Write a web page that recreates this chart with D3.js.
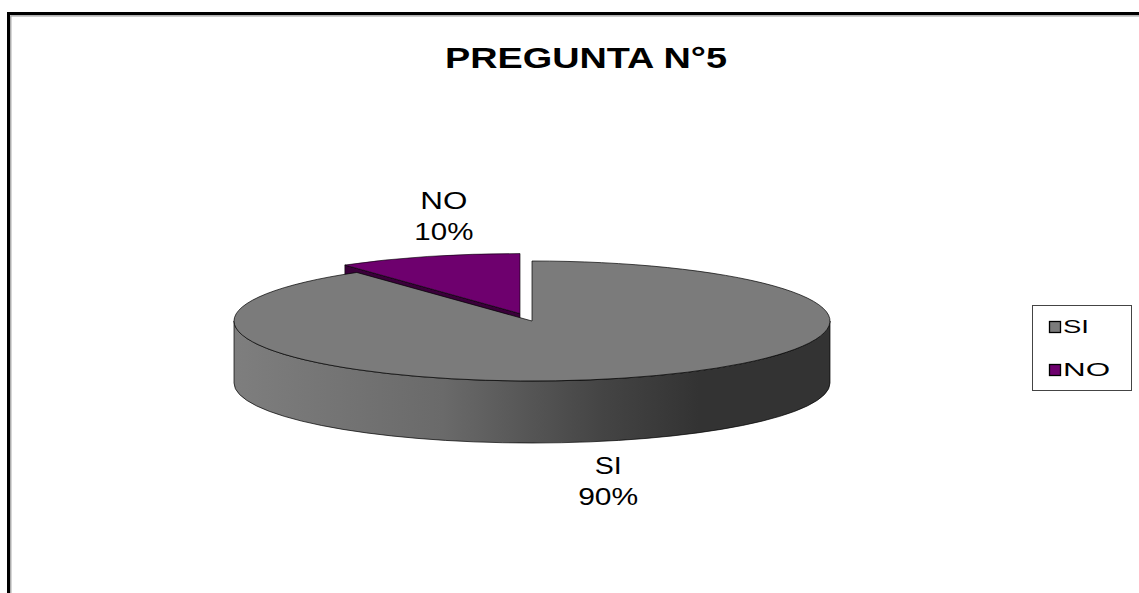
<!DOCTYPE html>
<html>
<head>
<meta charset="utf-8">
<script src="https://cdn.jsdelivr.net/npm/d3@7"></script>
<style>
  html, body { margin: 0; padding: 0; background: #fff; }
  svg { display: block; }
  text { font-family: "Liberation Sans", Arial, sans-serif; fill: #000; }
</style>
</head>
<body>
<svg id="chart" width="1139" height="593"></svg>
<script>
// Survey answers for question 5
const categories = ["SI", "NO"];
const values = [90, 10];
const percentLabels = ["90%", "10%"];
const chartTitle = "PREGUNTA N°5";

const topColors = ["#7b7b7b", "#6e006e"];
const wallColors = ["#555555", "#3a003a"];

const svg = d3.select("#chart");
const W = 1139, H = 593;

// Outer frame: heavy black rule with a thin grey inner line
svg.append("path")
  .attr("d", `M8.5,${H} V13.5 H${W}`)
  .attr("fill", "none").attr("stroke", "#000").attr("stroke-width", 3);
svg.append("path")
  .attr("d", `M10.8,${H} V15.8 H${W}`)
  .attr("fill", "none").attr("stroke", "#9a9a9a").attr("stroke-width", 1.2);

// Title
svg.append("text")
  .attr("x", 586).attr("y", 68)
  .attr("text-anchor", "middle")
  .attr("font-size", 29).attr("font-weight", "bold")
  .attr("textLength", 282).attr("lengthAdjust", "spacingAndGlyphs")
  .text(chartTitle);

// 3-D pie geometry (elliptical projection)
const cx = 532, cy = 321, rx = 298, ry = 60, depth = 62;
const explode = [0, 0.13];

const pie = d3.pie().sort(null).value(d => d)(values);

// angle a: radians clockwise from 12 o'clock
const px = (a, k = 1) => cx + k * rx * Math.sin(a);
const py = (a, k = 1) => cy - k * ry * Math.cos(a);

function offsetOf(i) {
  const m = (pie[i].startAngle + pie[i].endAngle) / 2;
  return [explode[i] * rx * Math.sin(m), -explode[i] * ry * Math.cos(m)];
}

function topPath(s, o) {
  const a0 = s.startAngle, a1 = s.endAngle;
  const large = (a1 - a0) > Math.PI ? 1 : 0;
  const p = d3.path();
  p.moveTo(cx + o[0], cy + o[1]);
  p.lineTo(px(a0) + o[0], py(a0) + o[1]);
  return p.toString() +
    ` A${rx},${ry} 0 ${large} 1 ${px(a1) + o[0]},${py(a1) + o[1]} Z`;
}

function outerWallPath(s, o) {
  const a0 = Math.max(s.startAngle, Math.PI / 2);
  const a1 = Math.min(s.endAngle, 3 * Math.PI / 2);
  if (a1 <= a0) return null;
  const x0 = px(a0) + o[0], y0 = py(a0) + o[1];
  const x1 = px(a1) + o[0], y1 = py(a1) + o[1];
  return `M${x0},${y0} A${rx},${ry} 0 0 1 ${x1},${y1}` +
    ` L${x1},${y1 + depth} A${rx},${ry} 0 0 0 ${x0},${y0 + depth} Z`;
}

function radialWallPath(a, o) {
  const x0 = cx + o[0], y0 = cy + o[1];
  const x1 = px(a) + o[0], y1 = py(a) + o[1];
  return `M${x0},${y0} L${x1},${y1} L${x1},${y1 + depth} L${x0},${y0 + depth} Z`;
}

// Horizontal shading of the front wall
const defs = svg.append("defs");
const grad = defs.append("linearGradient")
  .attr("id", "wallShade").attr("gradientUnits", "userSpaceOnUse")
  .attr("x1", cx - rx).attr("x2", cx + rx).attr("y1", 0).attr("y2", 0);
[["0%", "#7e7e7e"], ["35%", "#6a6a6a"], ["62%", "#444444"], ["78%", "#333333"], ["100%", "#333333"]]
  .forEach(([o, c]) => grad.append("stop").attr("offset", o).attr("stop-color", c));

const g = svg.append("g");

// Exploded NO slice sits behind the SI slice
const oNo = offsetOf(1);
g.append("path")
  .attr("d", radialWallPath(pie[1].startAngle, oNo))
  .attr("fill", wallColors[1]).attr("stroke", "#000").attr("stroke-width", 0.6);
g.append("path")
  .attr("d", topPath(pie[1], oNo))
  .attr("fill", topColors[1]).attr("stroke", "#000").attr("stroke-width", 0.6);

// SI slice: front wall then top face
const oSi = offsetOf(0);
const wall = outerWallPath(pie[0], oSi);
if (wall) {
  g.append("path").attr("d", wall)
    .attr("fill", "url(#wallShade)").attr("stroke", "#000").attr("stroke-width", 0.7);
}
g.append("path")
  .attr("d", topPath(pie[0], oSi))
  .attr("fill", topColors[0]).attr("stroke", "#000").attr("stroke-width", 0.7);

// Data labels placed along each slice's mid-angle
const lrx = 240, lry = 103;
const labelWidths = [[27, 60], [47, 59]];
pie.forEach((s, i) => {
  const m = (s.startAngle + s.endAngle) / 2;
  const o = offsetOf(i);
  const lx = cx + o[0] + lrx * Math.sin(m) - (i === 1 ? 2 : -2);
  const ly = cy + o[1] - lry * Math.cos(m) + (Math.cos(m) < 0 ? depth : 0);
  const t = svg.append("g");
  t.append("text")
    .attr("x", lx).attr("y", ly - 6.5)
    .attr("text-anchor", "middle").attr("font-size", 24)
    .attr("textLength", labelWidths[i][0]).attr("lengthAdjust", "spacingAndGlyphs")
    .text(categories[i]);
  t.append("text")
    .attr("x", lx).attr("y", ly + 24)
    .attr("text-anchor", "middle").attr("font-size", 24)
    .attr("textLength", labelWidths[i][1]).attr("lengthAdjust", "spacingAndGlyphs")
    .text(percentLabels[i]);
});

// Legend
const legend = svg.append("g");
legend.append("rect")
  .attr("x", 1032.5).attr("y", 305.5).attr("width", 99).attr("height", 85)
  .attr("fill", "#fff").attr("stroke", "#444").attr("stroke-width", 1);
const legendTextWidths = [26, 47];
categories.forEach((c, i) => {
  const y = 321 + i * 43;
  legend.append("rect")
    .attr("x", 1049.5).attr("y", y + 0.5).attr("width", 11).attr("height", 11)
    .attr("fill", topColors[i]).attr("stroke", "#000").attr("stroke-width", 1.3);
  legend.append("text")
    .attr("x", 1063).attr("y", y + 12)
    .attr("font-size", 19)
    .attr("textLength", legendTextWidths[i]).attr("lengthAdjust", "spacingAndGlyphs")
    .text(c);
});
</script>
</body>
</html>
